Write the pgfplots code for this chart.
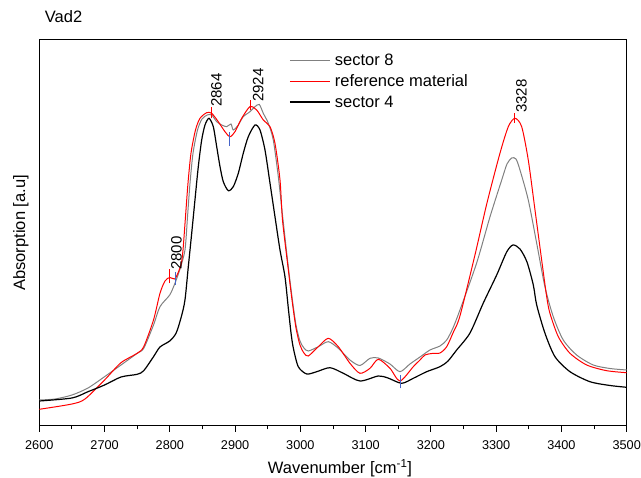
\documentclass[border=0pt]{standalone}
\usepackage{pgfplots}
\pgfplotsset{compat=1.18}
\usepackage{fontspec}
\setmainfont{Liberation Sans}

\definecolor{sgray}{RGB}{128,128,128}
\definecolor{mblue}{RGB}{70,100,200}

\newcommand{\lblfont}{\fontsize{16.5}{19.8}\selectfont}
\newcommand{\tckfont}{\fontsize{12.7}{15}\selectfont}
\newcommand{\pkfont}{\fontsize{15}{18}\selectfont}

\begin{document}
\begin{tikzpicture}
\useasboundingbox (-39.3pt,-52.3pt) rectangle (601.7pt,425.7pt);
\begin{axis}[
    at={(0,0)}, anchor=south west,
    scale only axis,
    width=587.4pt, height=385.7pt,
    xmin=2600, xmax=3500,
    ymin=0, ymax=385.7,
    xtick={2600,2700,...,3500},
    minor x tick num=1,
    ytick=\empty,
    xtick pos=bottom,
    tick align=outside,
    major tick length=6pt,
    minor tick length=3.7pt,
    every tick/.style={black, line width=0.9pt},
    axis line style={black, line width=1pt},
    /pgf/number format/assume math mode=true,
    /pgf/number format/1000 sep={},
    xticklabel style={font=\tckfont, anchor=base, inner sep=0pt, yshift=-17.6pt},
    xlabel={Wavenumber [cm\textsuperscript{-1}]},
    xlabel style={font=\lblfont, at={(axis description cs:0.5,0)}, anchor=base, inner sep=0pt, xshift=7pt, yshift=-47.6pt},
    ylabel={Absorption [a.u]},
    ylabel style={font=\lblfont, at={(axis description cs:-0.0315,0.5)}, anchor=center, inner sep=0pt},
    title={Vad2},
    title style={font=\lblfont, at={(axis description cs:0,1)}, anchor=base west, inner sep=0pt, xshift=5.4pt, yshift=11.7pt},
    legend style={draw=none, fill=none, font=\lblfont,
        at={(axis description cs:0.4254,0.9689)}, anchor=north west,
        inner sep=0pt, row sep=3.5pt, column sep=2pt},
    legend cell align=left,
    legend image code/.code={\draw[#1] (0pt,0pt) -- (40.3pt,0pt);},
]

% legend entries
\addlegendimage{color=sgray, line width=1pt}
\addlegendentry{sector 8}
\addlegendimage{color=red, line width=1pt}
\addlegendentry{reference material}
\addlegendimage{color=black, line width=1.2pt}
\addlegendentry{sector 4}

% sector 8
\addplot[draw=sgray, line width=1pt, smooth, tension=0.45, forget plot] coordinates {
(2600,25.7) (2624.1,26.7) (2650.1,30.7) (2674.6,37.7) (2700,49) (2725.2,60.7)
(2750,72.4) (2760,77.4) (2775,100.7) (2784.9,119) (2799.8,130.7) (2807.4,141.7)
(2815.1,155.7) (2823.2,175.7) (2827.1,209) (2830.9,242.4) (2835.5,272.4)
(2842.4,295.7) (2849.3,306.7) (2857.4,310.7) (2864.1,310.7) (2871.8,304)
(2879.5,300.7) (2887.1,299) (2893.7,301.7) (2897.2,295.7) (2904.9,300.7)
(2912.5,309) (2922.8,314) (2930.5,319) (2937.1,321.2) (2943.2,312.4)
(2950.9,302.4) (2958.5,285.7) (2966.2,249) (2972.6,210.7) (2980.3,165.7)
(2987.2,128.7) (2993.3,100.7) (2999.4,84.7) (3005.5,77.7) (3012.1,74.7)
(3027.5,79) (3042.8,84) (3058.1,77.4) (3076,65.7) (3091.3,60.2) (3106.7,67.4)
(3119.4,67.7) (3137.3,61.7) (3152.6,54) (3167.9,61.7) (3183.3,68.7)
(3198.6,75.7) (3213.9,79.7) (3224.2,85.7) (3233.8,97.7) (3244.5,115.7)
(3270.1,162.7) (3290.6,209) (3308.5,245.7) (3316.6,261.7) (3323.8,267.7)
(3330.4,266.7) (3336.5,255.7) (3349.2,225.7) (3362.1,182.4) (3374.8,138.7)
(3387.5,109) (3402.8,85.7) (3423.3,70.7) (3448.8,60.7) (3474.4,57.2) (3500,55.7)
};

% reference material
\addplot[draw=red, line width=1pt, smooth, tension=0.45, forget plot] coordinates {
(2600,16.4) (2650.1,21.7) (2670,26.7) (2700,45.7) (2725.2,63) (2750,72.4)
(2760,79) (2775,105.7) (2784.9,132.4) (2792.6,144.7) (2799.8,148.2)
(2807.4,146.7) (2812.5,152.7) (2817.6,162.4) (2820.2,175.7) (2824,209)
(2827.8,242.4) (2832.4,272.4) (2839.3,295.7) (2846.2,307.4) (2856.5,313)
(2864.1,312.4) (2874.2,304) (2884.5,294) (2892.2,289) (2899.8,294)
(2910.1,307.4) (2922.8,319) (2933.1,315.7) (2943.2,305.7) (2953.5,299)
(2961.1,282.4) (2968.8,245.7) (2972.6,205.7) (2980.3,162.7) (2987.2,125.7)
(2993.3,97.7) (2999.4,80.7) (3005.5,72.7) (3012.1,69.7) (3027.5,79)
(3042.8,87.4) (3058.1,79) (3076,62.4) (3091.3,52.4) (3106.7,57.4)
(3119.4,66.4) (3137.3,57.4) (3152.6,44.7) (3173,59) (3183.3,65.7)
(3190.9,70.7) (3201.6,72.2) (3213.9,72.7) (3224.2,79) (3233.8,92.7)
(3244.5,109.7) (3267.5,170.7) (3285.9,222.7) (3305.8,272.4) (3318.6,299)
(3328.8,307.4) (3339.1,299) (3349.2,265.7) (3359.5,215.7) (3369.7,165.7)
(3377.4,129) (3382.4,112.4) (3395.2,89) (3413.1,72.4) (3438.7,60.7)
(3469.3,55) (3500,53)
};

% sector 4
\addplot[draw=black, line width=1.2pt, smooth, tension=0.45, forget plot] coordinates {
(2600,24.7) (2650.1,27.7) (2674.6,34) (2700,40.7) (2725.2,48.7) (2750,51.4)
(2760,55) (2775,69) (2784.9,78.7) (2799.8,84.7) (2809.7,92.7) (2817.6,109)
(2823.2,125.7) (2828.3,159) (2833.5,192.4) (2838.5,225.7) (2843.6,259)
(2848.8,285.7) (2853.9,300.7) (2860,307.4) (2866.6,299) (2871.8,279)
(2876.9,259) (2881.9,244) (2889.6,235) (2897.2,239) (2904.9,252.4)
(2912.5,272.4) (2920.2,289) (2930.5,300.7) (2938.1,295.7) (2945.8,275.7)
(2953.5,242.4) (2961.1,209) (2968.8,175.7) (2976.4,149) (2981.5,117.7)
(2985.7,92.7) (2989.2,77.7) (2996.8,59) (3009.7,51.7) (3025,54) (3045.4,58)
(3065.8,52.4) (3091.3,44.7) (3119.4,49.7) (3134.2,47.7) (3155.2,42.4)
(3173,47.4) (3193.5,54) (3213.9,59) (3226.2,64.7) (3239.5,75.7) (3259.9,92.7)
(3280.3,122.7) (3300.8,150.7) (3316.1,173.7) (3325.8,180.7) (3336.5,176.7)
(3347.2,163.7) (3356.9,140.7) (3362.1,120.7) (3374.8,92.4) (3390.1,69)
(3413.1,54) (3443.7,44) (3474.4,40.2) (3500,38.4)
};

% peak markers
\addplot[red, line width=0.8pt, forget plot] coordinates {(2864,307.4) (2864,319)};
\addplot[red, line width=0.8pt, forget plot] coordinates {(2924,315.7) (2924,325.7)};
\addplot[red, line width=0.8pt, forget plot] coordinates {(3328,302.7) (3328,312.7)};
\addplot[red, line width=0.8pt, forget plot] coordinates {(2800,142.4) (2800,156.4)};
\addplot[mblue, line width=0.8pt, forget plot] coordinates {(2808,140.7) (2808,154)};
\addplot[mblue, line width=0.8pt, forget plot] coordinates {(2892,280) (2892,294)};
\addplot[mblue, line width=0.8pt, forget plot] coordinates {(3152.6,37.4) (3152.6,50.7)};

\node[rotate=90, anchor=base west, inner sep=0pt, font=\pkfont] at (axis cs:2879.5,318.7) {2864};
\node[rotate=90, anchor=base west, inner sep=0pt, font=\pkfont] at (axis cs:2943.2,323.7) {2924};
\node[rotate=90, anchor=base west, inner sep=0pt, font=\pkfont] at (axis cs:3346.7,312.7) {3328};
\node[rotate=90, anchor=base west, inner sep=0pt, font=\pkfont] at (axis cs:2817.9,155.7) {2800};

\end{axis}
\end{tikzpicture}
\end{document}
